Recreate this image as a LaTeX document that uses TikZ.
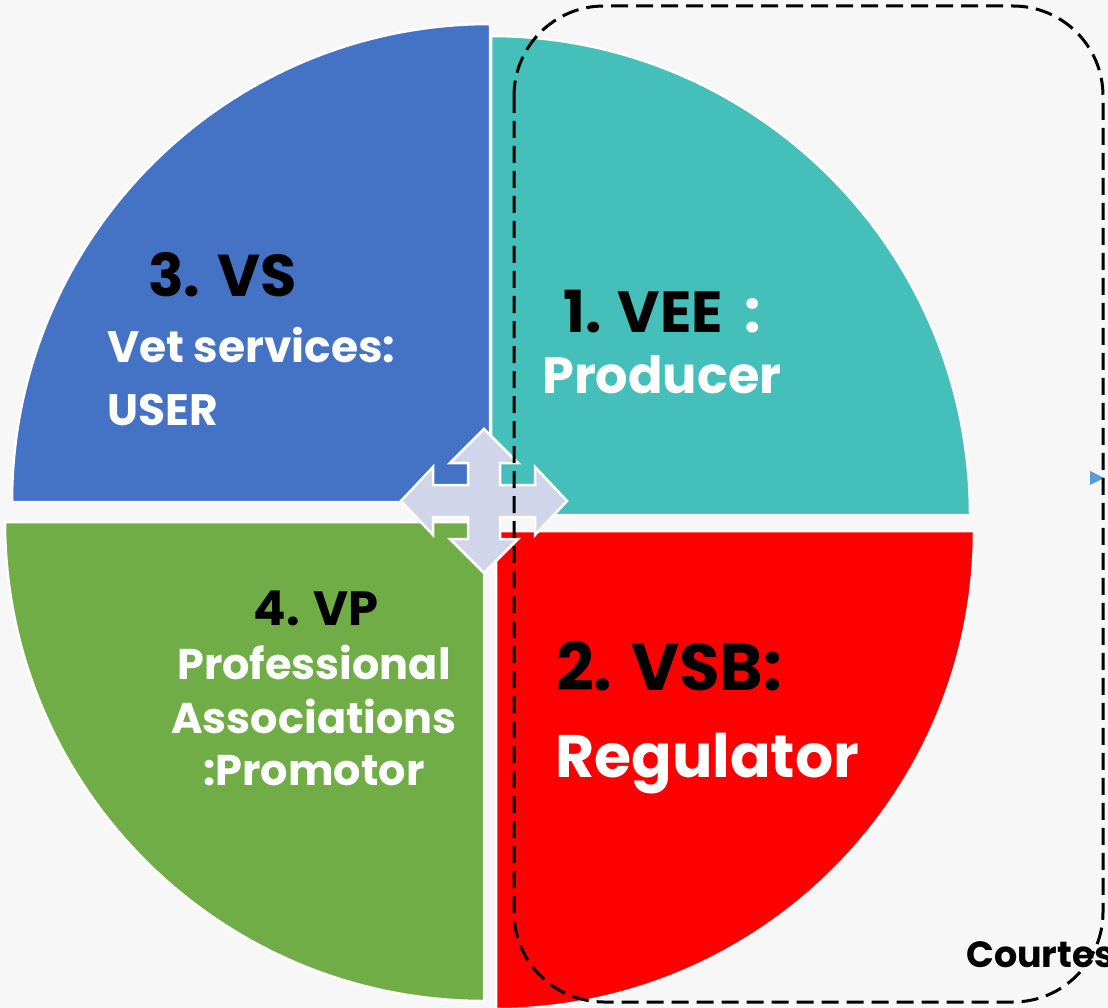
\documentclass[tikz,border=0pt]{standalone}
\usepackage{fontspec}
\setmainfont{Poppins}
\usetikzlibrary{positioning}

\definecolor{vsblue}{HTML}{4472C4}
\definecolor{veeteal}{HTML}{45BFB9}
\definecolor{vsbred}{HTML}{FF0000}
\definecolor{vpgreen}{HTML}{70AD47}
\definecolor{crossfill}{HTML}{D0D5EA}
\definecolor{bgpaper}{HTML}{F7F7F7}
\definecolor{markblue}{HTML}{5B9BD5}

\newcommand{\fsz}[1]{\fontsize{#1}{#1}\selectfont\bfseries}

\begin{document}
\begin{tikzpicture}[x=1pt, y=-1pt,
		quarter/.style={draw=white, line width=2.5pt},
		head/.style={inner sep=0pt, text=black},
		body/.style={inner sep=0pt, text=white}]
		
		% Canvas
		\useasboundingbox (0,0) rectangle (1108,1008);
		\clip (0,0) rectangle (1108,1008);
		\fill[bgpaper] (0,0) rectangle (1108,1008);
		
		% Quarters
		\filldraw[quarter, fill=vsblue] (490,502) -- ++(-478,0) arc[start angle=180, end angle=270, radius=478] -- cycle;
		\filldraw[quarter, fill=veeteal] (491,515) -- ++(0,-479) arc[start angle=270, end angle=360, radius=479] -- cycle;
		\filldraw[quarter, fill=vsbred] (496,531) -- ++(478,0) arc[start angle=0, end angle=90, radius=478] -- cycle;
		\filldraw[quarter, fill=vpgreen] (484,522) -- ++(0,479) arc[start angle=90, end angle=180, radius=479] -- cycle;
		
		% Cross arrow
		\filldraw[draw=white, line width=2.5pt, fill=crossfill, shift={(484,501)}]
			(-83,0) -- (-51,-34) -- (-51,-16) -- (-16,-16) -- (-16,-38) -- (-34,-38) -- (0,-72)
			-- (34,-38) -- (16,-38) -- (16,-16) -- (51,-16) -- (51,-34) -- (83,0)
			-- (51,34) -- (51,16) -- (16,16) -- (16,38) -- (34,38) -- (0,72)
			-- (-34,38) -- (-16,38) -- (-16,16) -- (-51,16) -- (-51,34) -- cycle;
		
		% Nodes
		\node[head, anchor=base west, font=\fsz{59}] (vs) at (148,297) {3. VS};
		\node[body, anchor=base west, font=\fsz{44}] (vsA) at (107,362) {Vet services:};
		\node[body, anchor=base west, font=\fsz{44}] (vsB) at (107,425) {USER};
		
		\node[head, anchor=base west, font=\fsz{58}] (vee) at (563,332) {1. VEE\, \textcolor{white}{:}};
		\node[body, anchor=base west, font=\fsz{51}] (veeA) at (542,393) {Producer};
		
		\node[head, anchor=base west, font=\fsz{66}] (vsb) at (556,690) {2. VSB:};
		\node[body, anchor=base west, font=\fsz{60}] (vsbA) at (555,777) {Regulator};
		
		\node[head, anchor=base, font=\fsz{48}] (vp) at (316,625) {4. VP};
		\node[body, anchor=base, font=\fsz{43}] (vpA) at (314,679) {Professional};
		\node[body, anchor=base, font=\fsz{43}] (vpB) at (314,733) {Associations};
		\node[body, anchor=base, font=\fsz{43}] (vpC) at (314,785) {:Promotor};
		
		\node[head, anchor=base west, font=\fsz{36.5}] (credit) at (966,967) {Courtes};
		
		% Frame
		\fill[markblue] (1090,471) -- (1090,485) -- (1104,478) -- cycle;
		\draw[dash pattern=on 17pt off 8pt, line width=3pt, rounded corners=90pt] (514,6) rectangle (1103,1002);
		
\end{tikzpicture}
\end{document}
